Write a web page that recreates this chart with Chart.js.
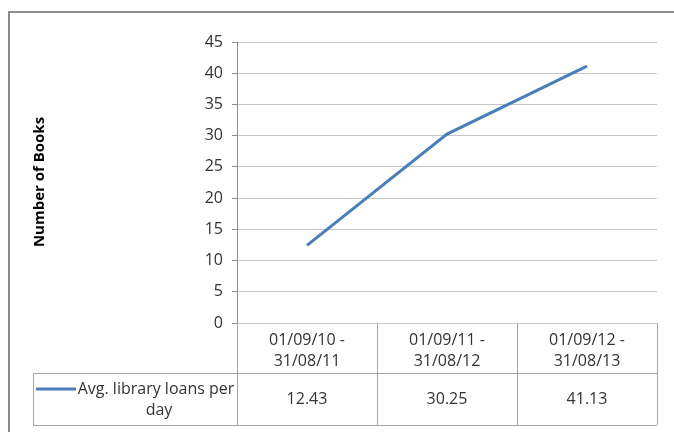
<!DOCTYPE html>
<html>
<head>
<meta charset="utf-8">
<script src="https://cdn.jsdelivr.net/npm/chart.js@4/dist/chart.umd.min.js"></script>
<style>
  html, body { margin: 0; padding: 0; background: #fff; }
  #wrap { width: 674px; height: 432px; }
</style>
</head>
<body>
<div id="wrap"><canvas id="loansChart" width="674" height="432"></canvas></div>
<script>
// chart data
const categories = [['01/09/10 -', '31/08/11'], ['01/09/11 -', '31/08/12'], ['01/09/12 -', '31/08/13']];
const loans = [12.43, 30.25, 41.13];
const valueLabels = ['12.43', '30.25', '41.13'];
const seriesName = ['Avg. library loans per', 'day'];
const yTitle = 'Number of Books';

const FONT = 'Open Sans';
const TEXT = '#333333';
const LINE_BLUE = '#4a7ebb';
const TABLE_LINE = '#a6a6a6';

// draws the outer frame, the axis title and the data table under the plot
const tablePlugin = {
  id: 'dataTable',
  afterDraw(chart) {
    const ctx = chart.ctx;
    const x = chart.scales.x;
    const area = chart.chartArea;
    const n = categories.length;
    const colW = x.width / n;
    const rowTop = area.bottom;
    const rowMid = rowTop + 50;
    const rowBot = rowTop + 102;
    const legendLeft = 33;

    ctx.save();

    // frame
    ctx.strokeStyle = '#8c8c8c';
    ctx.lineWidth = 2;
    ctx.beginPath();
    ctx.moveTo(9, 440);
    ctx.lineTo(9, 12);
    ctx.lineTo(680, 12);
    ctx.stroke();

    // table lines
    ctx.strokeStyle = TABLE_LINE;
    ctx.lineWidth = 1;
    ctx.beginPath();
    for (let i = 0; i <= n; i++) {
      const px = Math.round(x.left + i * colW) + 0.5;
      ctx.moveTo(px, rowTop);
      ctx.lineTo(px, rowBot);
    }
    ctx.moveTo(legendLeft + 0.5, rowMid);
    ctx.lineTo(legendLeft + 0.5, rowBot);
    ctx.moveTo(legendLeft, rowMid + 0.5);
    ctx.lineTo(x.right, rowMid + 0.5);
    ctx.moveTo(legendLeft, rowBot + 0.5);
    ctx.lineTo(x.right, rowBot + 0.5);
    ctx.stroke();

    // category labels and values
    ctx.fillStyle = TEXT;
    ctx.font = '16px "' + FONT + '"';
    ctx.textAlign = 'center';
    ctx.textBaseline = 'middle';
    categories.forEach((lines, i) => {
      const cx = x.getPixelForValue(i);
      ctx.fillText(lines[0], cx, rowTop + 17);
      ctx.fillText(lines[1], cx, rowTop + 38);
      ctx.fillText(valueLabels[i], cx, rowMid + 26);
    });

    // legend key
    ctx.strokeStyle = LINE_BLUE;
    ctx.lineWidth = 3;
    ctx.beginPath();
    ctx.moveTo(36, rowMid + 16);
    ctx.lineTo(76, rowMid + 16);
    ctx.stroke();
    ctx.fillText(seriesName[0], 156, rowMid + 16);
    ctx.fillText(seriesName[1], 159, rowMid + 37);

    // y axis title
    ctx.font = 'bold 15px "' + FONT + '"';
    ctx.translate(40, 182);
    ctx.rotate(-Math.PI / 2);
    ctx.fillStyle = '#000';
    ctx.fillText(yTitle, 0, 0);

    ctx.restore();
  }
};

function initLoansChart() {
  const ctx = document.getElementById('loansChart').getContext('2d');
  new Chart(ctx, {
    type: 'line',
    data: {
      labels: categories,
      datasets: [{
        label: seriesName.join(' '),
        data: loans,
        borderColor: LINE_BLUE,
        borderWidth: 3,
        pointRadius: 0,
        tension: 0,
        fill: false
      }]
    },
    options: {
      responsive: false,
      animation: false,
      layout: { padding: { left: 9, right: 17, top: 42, bottom: 109 } },
      plugins: {
        legend: { display: false },
        tooltip: { enabled: false }
      },
      scales: {
        x: {
          display: false,
          offset: true
        },
        y: {
          min: 0,
          max: 45,
          ticks: {
            stepSize: 5,
            color: TEXT,
            padding: 9,
            font: { family: FONT, size: 16 }
          },
          grid: { color: '#c4c4c4', tickLength: 5, tickColor: '#8c8c8c' },
          border: { color: '#8c8c8c' },
          afterFit(scale) { scale.width = 228; }
        }
      }
    },
    plugins: [tablePlugin]
  });
}

initLoansChart();
</script>
</body>
</html>
